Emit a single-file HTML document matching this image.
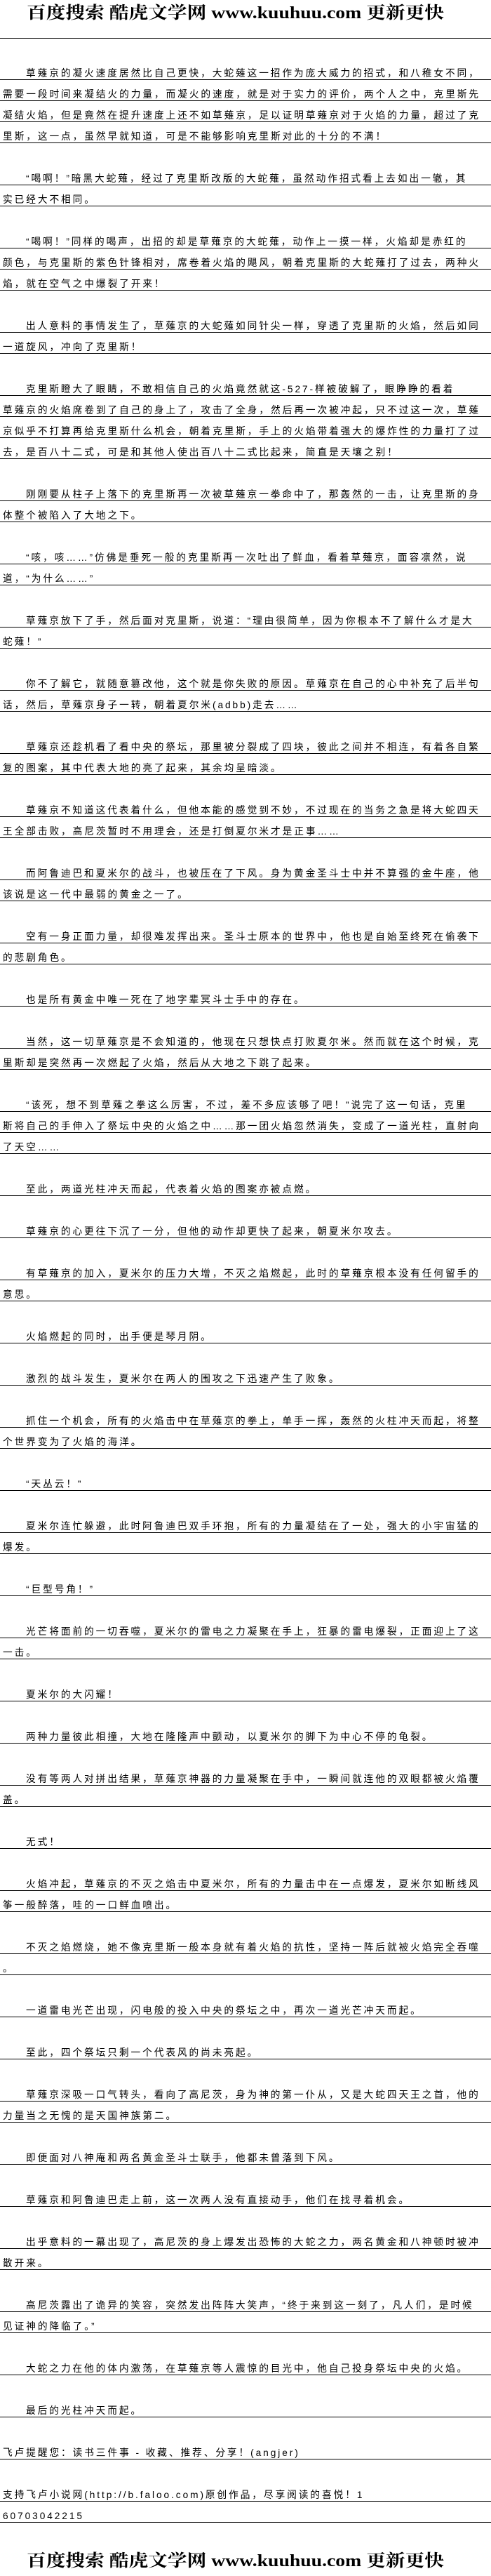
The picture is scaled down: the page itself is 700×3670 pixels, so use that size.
<!DOCTYPE html>
<html><head><meta charset="utf-8">
<style>
html,body{margin:0;padding:0;background:#fff;}
body{width:700px;height:3670px;position:relative;overflow:hidden;}
.l{position:absolute;left:0;width:700px;height:29px;border-bottom:1px solid #000;
font-family:"Liberation Sans","WenQuanYi Zen Hei","Noto Sans CJK SC",sans-serif;
font-size:14px;letter-spacing:3px;color:#000;white-space:nowrap;}
.l span{position:absolute;bottom:1px;line-height:15px;transform-origin:0 100%;}
svg{position:absolute;left:0;}
</style></head><body>
<svg width="700" height="40" style="top:0"><text x="38" y="26" textLength="595" lengthAdjust="spacingAndGlyphs" font-family="Liberation Serif, Noto Serif CJK SC, serif" font-weight="bold" font-size="24">百度搜索 酷虎文学网 www.kuuhuu.com 更新更快</text></svg>
<div class="l" style="top:25px"></div>
<svg width="700" height="40" style="top:3630px"><text x="38" y="26" textLength="595" lengthAdjust="spacingAndGlyphs" font-family="Liberation Serif, Noto Serif CJK SC, serif" font-weight="bold" font-size="24">百度搜索 酷虎文学网 www.kuuhuu.com 更新更快</text></svg>
<div id="c"></div>
<script>
var P=[
[114,["草薙京的凝火速度居然比自己更快，大蛇薙这一招作为庞大威力的招式，和八稚女不同，","需要一段时间来凝结火的力量，而凝火的速度，就是对于实力的评价，两个人之中，克里斯先","凝结火焰，但是竟然在提升速度上还不如草薙京，足以证明草薙京对于火焰的力量，超过了克","里斯，这一点，虽然早就知道，可是不能够影响克里斯对此的十分的不满！"]],
[264,["“喝啊！”暗黑大蛇薙，经过了克里斯改版的大蛇薙，虽然动作招式看上去如出一辙，其","实已经大不相同。"]],
[354,["“喝啊！”同样的喝声，出招的却是草薙京的大蛇薙，动作上一摸一样，火焰却是赤红的","颜色，与克里斯的紫色针锋相对，席卷着火焰的飓风，朝着克里斯的大蛇薙打了过去，两种火","焰，就在空气之中爆裂了开来！"]],
[474,["出人意料的事情发生了，草薙京的大蛇薙如同针尖一样，穿透了克里斯的火焰，然后如同","一道旋风，冲向了克里斯！"]],
[564,["克里斯瞪大了眼睛，不敢相信自己的火焰竟然就这-527-样被破解了，眼睁睁的看着","草薙京的火焰席卷到了自己的身上了，攻击了全身，然后再一次被冲起，只不过这一次，草薙","京似乎不打算再给克里斯什么机会，朝着克里斯，手上的火焰带着强大的爆炸性的力量打了过","去，是百八十二式，可是和其他人使出百八十二式比起来，简直是天壤之别！"]],
[714,["刚刚要从柱子上落下的克里斯再一次被草薙京一拳命中了，那轰然的一击，让克里斯的身","体整个被陷入了大地之下。"]],
[804,["“咳，咳……”仿佛是垂死一般的克里斯再一次吐出了鲜血，看着草薙京，面容凛然，说","道，“为什么……”"]],
[894,["草薙京放下了手，然后面对克里斯，说道：“理由很简单，因为你根本不了解什么才是大","蛇薙！”"]],
[984,["你不了解它，就随意篡改他，这个就是你失败的原因。草薙京在自己的心中补充了后半句","话，然后，草薙京身子一转，朝着夏尔米(adbb)走去……"]],
[1074,["草薙京还趁机看了看中央的祭坛，那里被分裂成了四块，彼此之间并不相连，有着各自繁","复的图案，其中代表大地的亮了起来，其余均呈暗淡。"]],
[1164,["草薙京不知道这代表着什么，但他本能的感觉到不妙，不过现在的当务之急是将大蛇四天","王全部击败，高尼茨暂时不用理会，还是打倒夏尔米才是正事……"]],
[1254,["而阿鲁迪巴和夏米尔的战斗，也被压在了下风。身为黄金圣斗士中并不算强的金牛座，他","该说是这一代中最弱的黄金之一了。"]],
[1344,["空有一身正面力量，却很难发挥出来。圣斗士原本的世界中，他也是自始至终死在偷袭下","的悲剧角色。"]],
[1434,["也是所有黄金中唯一死在了地字辈冥斗士手中的存在。"]],
[1494,["当然，这一切草薙京是不会知道的，他现在只想快点打败夏尔米。然而就在这个时候，克","里斯却是突然再一次燃起了火焰，然后从大地之下跳了起来。"]],
[1584,["“该死，想不到草薙之拳这么厉害，不过，差不多应该够了吧！”说完了这一句话，克里","斯将自己的手伸入了祭坛中央的火焰之中……那一团火焰忽然消失，变成了一道光柱，直射向","了天空……"]],
[1704,["至此，两道光柱冲天而起，代表着火焰的图案亦被点燃。"]],
[1764,["草薙京的心更往下沉了一分，但他的动作却更快了起来，朝夏米尔攻去。"]],
[1824,["有草薙京的加入，夏米尔的压力大增，不灭之焰燃起，此时的草薙京根本没有任何留手的","意思。"]],
[1914,["火焰燃起的同时，出手便是琴月阴。"]],
[1974,["激烈的战斗发生，夏米尔在两人的围攻之下迅速产生了败象。"]],
[2034,["抓住一个机会，所有的火焰击中在草薙京的拳上，单手一挥，轰然的火柱冲天而起，将整","个世界变为了火焰的海洋。"]],
[2124,["“天丛云！”"]],
[2184,["夏米尔连忙躲避，此时阿鲁迪巴双手环抱，所有的力量凝结在了一处，强大的小宇宙猛的","爆发。"]],
[2274,["“巨型号角！”"]],
[2334,["光芒将面前的一切吞噬，夏米尔的雷电之力凝聚在手上，狂暴的雷电爆裂，正面迎上了这","一击。"]],
[2424,["夏米尔的大闪耀！"]],
[2484,["两种力量彼此相撞，大地在隆隆声中颤动，以夏米尔的脚下为中心不停的龟裂。"]],
[2544,["没有等两人对拼出结果，草薙京神器的力量凝聚在手中，一瞬间就连他的双眼都被火焰覆","盖。"]],
[2634,["无式！"]],
[2694,["火焰冲起，草薙京的不灭之焰击中夏米尔，所有的力量击中在一点爆发，夏米尔如断线风","筝一般醉落，哇的一口鲜血喷出。"]],
[2784,["不灭之焰燃烧，她不像克里斯一般本身就有着火焰的抗性，坚持一阵后就被火焰完全吞噬","。"]],
[2874,["一道雷电光芒出现，闪电般的投入中央的祭坛之中，再次一道光芒冲天而起。"]],
[2934,["至此，四个祭坛只剩一个代表风的尚未亮起。"]],
[2994,["草薙京深吸一口气转头，看向了高尼茨，身为神的第一仆从，又是大蛇四天王之首，他的","力量当之无愧的是天国神族第二。"]],
[3084,["即便面对八神庵和两名黄金圣斗士联手，他都未曾落到下风。"]],
[3144,["草薙京和阿鲁迪巴走上前，这一次两人没有直接动手，他们在找寻着机会。"]],
[3204,["出乎意料的一幕出现了，高尼茨的身上爆发出恐怖的大蛇之力，两名黄金和八神顿时被冲","散开来。"]],
[3294,["高尼茨露出了诡异的笑容，突然发出阵阵大笑声，“终于来到这一刻了，凡人们，是时候","见证神的降临了。”"]],
[3384,["大蛇之力在他的体内激荡，在草薙京等人震惊的目光中，他自己投身祭坛中央的火焰。"]],
[3444,["最后的光柱冲天而起。"]],
[3504,["飞卢提醒您：读书三件事 - 收藏、推荐、分享！(angjer)"],1],
[3564,["支持飞卢小说网(http://b.faloo.com)原创作品，尽享阅读的喜悦！1","60703042215"],1]
];
var h="";
P.forEach(function(p){
 p[1].forEach(function(t,i){
  var y=p[0]+30*i-30;
  var x=(i==0&&!p[2])?37:4;
  var s=t.replace(/&/g,"&amp;").replace(/</g,"&lt;");
  h+='<div class="l" style="top:'+y+'px"><span style="left:'+x+'px">'+s+'</span></div>';
 });
});
var c=document.getElementById("c");
c.innerHTML=h;
var spans=c.querySelectorAll("span");
/* second line of first paragraph is a full line: 4 -> 685 */
var w=spans[1].getBoundingClientRect().width;
var k=w>0?(681/w):1;
for(var i=0;i<spans.length;i++){spans[i].style.transform="scaleX("+k+")";}
</script>
</body></html>
